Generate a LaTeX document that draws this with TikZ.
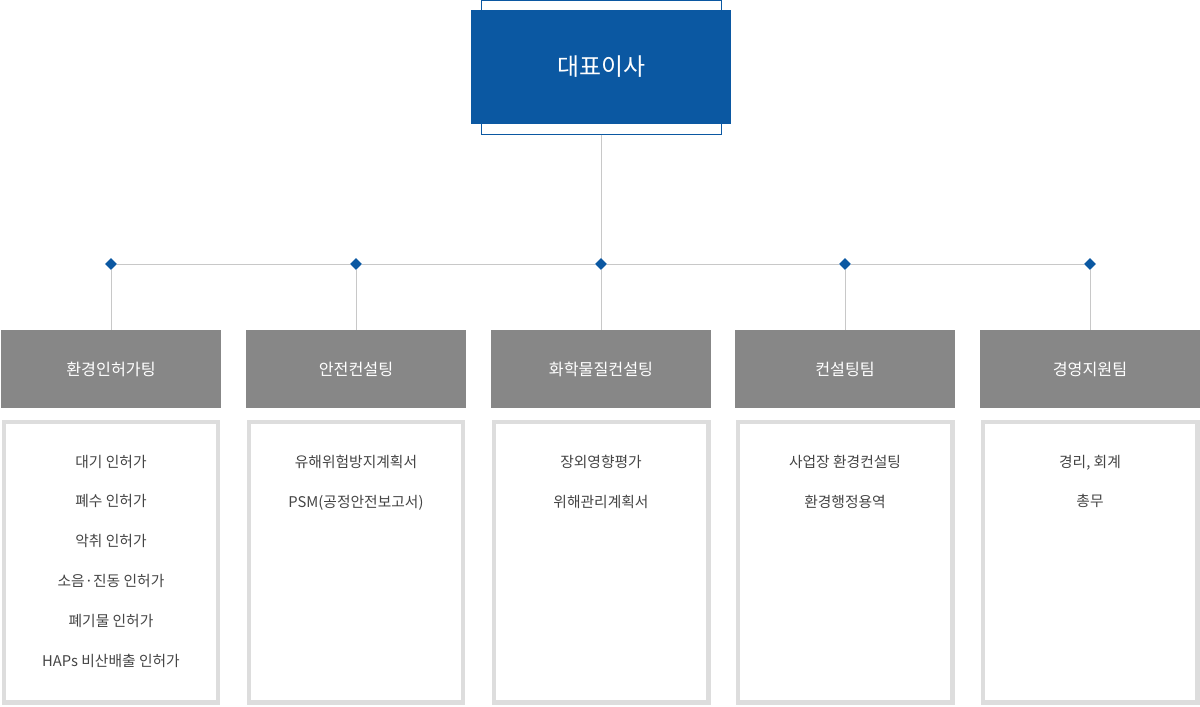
\documentclass[tikz,border=0pt]{standalone}
\usepackage{fontspec}
\setmainfont{Noto Sans CJK KR}
\usetikzlibrary{positioning,shapes.geometric}
\definecolor{ceoblue}{RGB}{11,88,162}
\definecolor{teamgray}{RGB}{135,135,135}
\definecolor{framegray}{RGB}{221,221,221}
\definecolor{textgray}{RGB}{68,68,68}
\definecolor{linegray}{RGB}{200,200,200}
\tikzset{
    % Box styles
    ceo box/.style={
        fill=ceoblue,
        text=white,
        minimum width=6.5cm,
        minimum height=2.85cm,
        font=\fontsize{17}{20}\selectfont
    },
    ceo frame/.style={
        draw=ceoblue,
        fill=white,
        line width=0.6pt,
        minimum width=6cm,
        minimum height=3.33cm
    },
    team box/.style={
        fill=teamgray,
        text=white,
        minimum width=5.5cm,
        minimum height=1.95cm,
        font=\fontsize{11.5}{14}\selectfont
    },
    duty box/.style={
        draw=framegray,
        line width=3.5pt,
        minimum width=5.35cm,
        minimum height=7cm
    },
    duty text/.style={
        text=textgray,
        align=center,
        anchor=north,
        font=\fontsize{10.5}{28.3}\selectfont
    },
    % Connector styles
    org line/.style={
        draw=linegray,
        line width=0.5pt
    },
    joint/.style={
        diamond,
        fill=ceoblue,
        inner sep=0pt,
        minimum size=0.3cm
    }
}
\begin{document}
\begin{tikzpicture}[x=0.025cm,y=-0.025cm]
    \useasboundingbox (0,0) rectangle (1200,706);
    \node[ceo frame] (frame) at (601,67.5) {};
    \node[ceo box] (ceo) at (601,67) {대표이사};
    \coordinate (hub) at (601,264);
    \draw[org line] (frame.south) -- (hub);
    \foreach \name/\x/\team in {env/111/환경인허가팅, safe/356/안전컨설팅, chem/601/화학물질컨설팅, cons/845/컨설팅팀, mgmt/1090/경영지원팀}{
        \node[team box] (\name) at (\x,369) {\team};
        \node[duty box] (\name-duty) at (\x,562) {};
        \node[joint] (\name-joint) at (\x,264) {};
        \draw[org line] (\name-joint) -- (\name.north);
    }
    \draw[org line] (env-joint) -- (safe-joint) -- (chem-joint) -- (cons-joint) -- (mgmt-joint);
    \node[duty text] (env-list) at (111,450) {대기 인허가\\폐수 인허가\\악취 인허가\\소음·진동 인허가\\폐기물 인허가\\HAPs 비산배출 인허가};
    \node[duty text] (safe-list) at (356,450) {유해위험방지계획서\\PSM(공정안전보고서)};
    \node[duty text] (chem-list) at (601,450) {장외영향평가\\위해관리계획서};
    \node[duty text] (cons-list) at (845,450) {사업장 환경컨설팅\\환경행정용역};
    \node[duty text] (mgmt-list) at (1090,450) {경리, 회계\\총무};
\end{tikzpicture}
\end{document}
